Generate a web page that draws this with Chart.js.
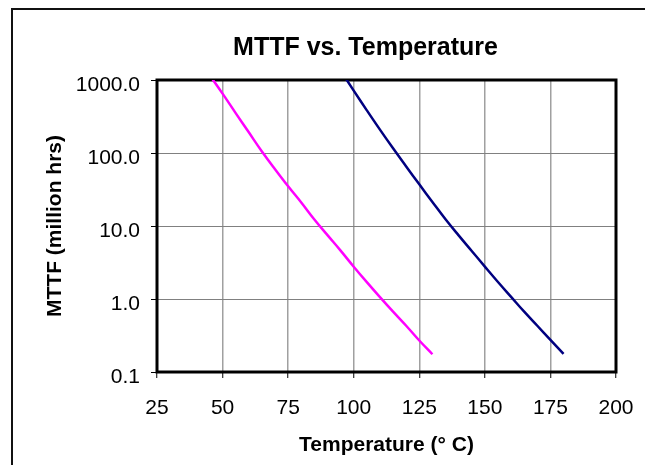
<!DOCTYPE html>
<html>
<head>
<meta charset="utf-8">
<title>MTTF vs. Temperature</title>
<script src="https://cdn.jsdelivr.net/npm/chart.js@4.4.1/dist/chart.umd.min.js"></script>
<style>
  html, body { margin: 0; padding: 0; background: #fff; }
  canvas { display: block; }
</style>
</head>
<body>
<canvas id="grafico" width="645" height="465"></canvas>
<script>
// ===============================
// DADOS
// ===============================
// temperatura em °C -> MTTF em milhões de horas
const tempsMagenta = [45, 50, 55, 60, 65, 70, 75, 80, 85, 90, 95, 100, 105, 110, 115, 120, 125, 130];
const mttfMagenta  = [1175, 650, 352, 192, 105, 60, 35, 21, 12.3, 7.5, 4.6, 2.77, 1.7, 1.06, 0.67, 0.43, 0.27, 0.175];

const tempsNavy = [95, 100, 105, 110, 115, 120, 125, 130, 135, 140, 145, 150, 155, 160, 165, 170, 175, 180];
const mttfNavy  = [1350, 714, 384, 209, 116, 65.5, 37.2, 21.4, 12.4, 7.45, 4.55, 2.78, 1.71, 1.07, 0.67, 0.43, 0.276, 0.177];

const xTicks = [25, 50, 75, 100, 125, 150, 175, 200];
const yTicks = [0.1, 1, 10, 100, 1000];

const tituloGrafico = 'MTTF vs. Temperature';

const pares = (xs, ys) => xs.map((x, i) => ({ x, y: ys[i] }));

// ===============================
// MOLDURAS E TÍTULO
// ===============================
const fundo = {
  id: 'fundo',
  beforeDraw(chart) {
    const ctx = chart.ctx;
    ctx.save();
    ctx.fillStyle = '#fff';
    ctx.fillRect(0, 0, chart.width, chart.height);
    // borda externa do objeto do gráfico (cortada à direita e embaixo)
    ctx.strokeStyle = '#111';
    ctx.lineWidth = 2;
    ctx.strokeRect(12, 9, 700, 500);
    // título: o Excel centraliza no objeto inteiro, não na área do gráfico
    ctx.fillStyle = '#000';
    ctx.font = "bold 25px 'Liberation Sans', Arial, sans-serif";
    ctx.textAlign = 'center';
    ctx.textBaseline = 'alphabetic';
    ctx.fillText(tituloGrafico, 365.5, 55);
    ctx.restore();
  }
};

const moldura = {
  id: 'moldura',
  beforeDatasetsDraw(chart) {
    const { left, top, right, bottom } = chart.chartArea;
    const ctx = chart.ctx;
    ctx.save();
    ctx.strokeStyle = '#000';
    ctx.lineWidth = 3;
    ctx.strokeRect(left, top, right - left, bottom - top);
    ctx.restore();
  }
};

Chart.defaults.font.family = "'Liberation Sans', Arial, Helvetica, sans-serif";
Chart.defaults.color = '#000';

new Chart(document.getElementById('grafico'), {
  type: 'line',
  data: {
    datasets: [
      {
        label: 'Magenta',
        data: pares(tempsMagenta, mttfMagenta),
        borderColor: '#ff00ff',
        borderWidth: 2.5,
        pointRadius: 0,
        tension: 0.4,
        clip: 0
      },
      {
        label: 'Navy',
        data: pares(tempsNavy, mttfNavy),
        borderColor: '#000080',
        borderWidth: 2.5,
        pointRadius: 0,
        tension: 0.4,
        clip: 0
      }
    ]
  },
  options: {
    responsive: false,
    animation: false,
    devicePixelRatio: 1,
    layout: { padding: { left: 0, right: 29, top: 80, bottom: 0 } },
    plugins: {
      legend: { display: false },
      tooltip: { enabled: false },
      title: { display: false }
    },
    scales: {
      x: {
        type: 'linear',
        min: 25,
        max: 200,
        afterBuildTicks: s => { s.ticks = xTicks.map(v => ({ value: v })); },
        afterFit: s => {
          s.height = 93;
          // os rótulos cabem na margem; não deixar o padding empurrar a área
          s.paddingLeft = 10;
          s.paddingRight = 10;
        },
        ticks: { color: '#000', font: { size: 21 }, padding: 18, maxRotation: 0, autoSkip: false },
        grid: { color: '#a0a0a0', lineWidth: 1.5, tickColor: '#000', tickLength: 6, tickWidth: 1 },
        border: { display: false },
        title: {
          display: true,
          text: 'Temperature (° C)',
          color: '#000',
          font: { size: 21, weight: 'bold' },
          padding: { top: 0, bottom: 7 }
        }
      },
      y: {
        type: 'logarithmic',
        min: 0.1,
        max: 1000,
        afterBuildTicks: s => { s.ticks = yTicks.map(v => ({ value: v })); },
        afterFit: s => { s.width = 157; },
        ticks: {
          color: '#000',
          font: { size: 21 },
          padding: 11,
          labelOffset: 5,
          autoSkip: false,
          callback: v => Number(v).toFixed(1)
        },
        grid: { color: '#808080', lineWidth: 1, tickColor: '#000', tickLength: 6, tickWidth: 1 },
        border: { display: false },
        title: {
          display: true,
          text: 'MTTF (million hrs)',
          color: '#000',
          font: { size: 21, weight: 'bold' },
          padding: { top: 43, bottom: 0 }
        }
      }
    }
  },
  plugins: [fundo, moldura]
});
</script>
</body>
</html>
